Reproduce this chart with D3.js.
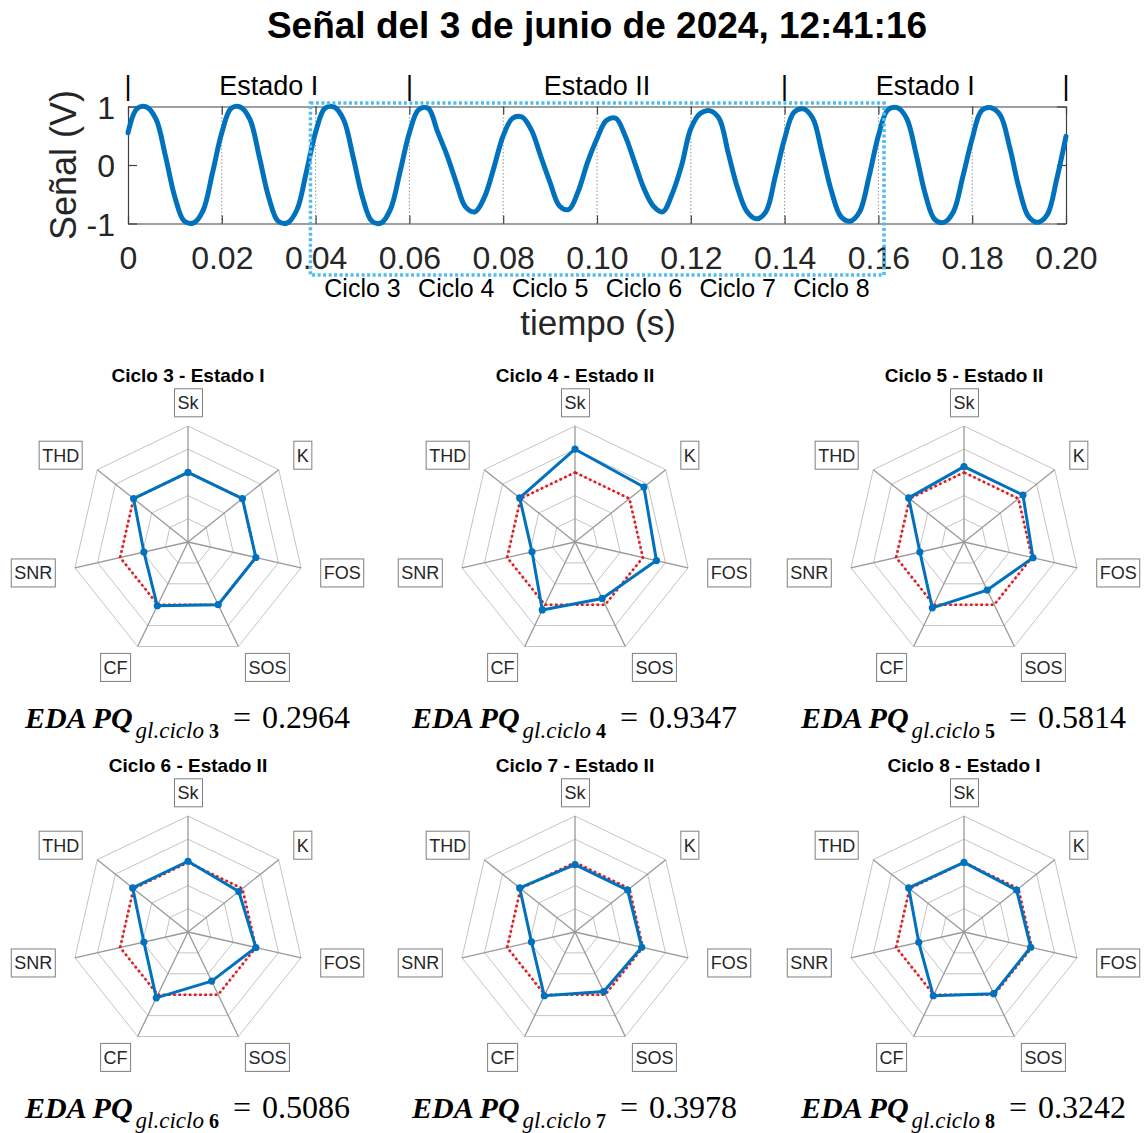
<!DOCTYPE html>
<html><head><meta charset="utf-8">
<script src="https://cdn.jsdelivr.net/npm/d3@7"></script>
<style>body{margin:0;background:#fff} svg{display:block}</style>
</head><body>
<svg id="chart" width="1147" height="1133"></svg>
<script>
// ---------------- DATA ----------------
const chartTitle = "Señal del 3 de junio de 2024, 12:41:16";
const signalStep = 0.002; // s between samples
const signalValues = [
  0.55, 0.97, 0.99, 0.78, 0.15, -0.55, -0.96, -0.99, -0.78, -0.14,
  0.55, 0.97, 0.99, 0.78, 0.14, -0.55, -0.96, -0.99, -0.77, -0.13,
  0.56, 0.97, 0.99, 0.77, 0.14, -0.55, -0.96, -0.99, -0.75, -0.12,
  0.55, 0.95, 0.97, 0.57, 0.17, -0.30, -0.72, -0.80, -0.55, -0.05,
  0.50, 0.80, 0.82, 0.60, 0.15, -0.30, -0.70, -0.76, -0.45, 0.05,
  0.45, 0.76, 0.80, 0.50, 0.05, -0.40, -0.70, -0.80, -0.50, -0.02,
  0.62, 0.88, 0.93, 0.80, 0.20, -0.40, -0.80, -0.92, -0.80, -0.20,
  0.45, 0.90, 0.96, 0.80, 0.20, -0.45, -0.88, -0.96, -0.80, -0.20,
  0.50, 0.94, 0.98, 0.80, 0.20, -0.50, -0.93, -0.98, -0.80, -0.20,
  0.45, 0.93, 0.98, 0.85, 0.30, -0.40, -0.88, -0.98, -0.85, -0.25,
  0.49
];
const timeTicks = [0, 0.02, 0.04, 0.06, 0.08, 0.10, 0.12, 0.14, 0.16, 0.18, 0.20];
const voltTicks = [-1, 0, 1];
const stateNames = ["Estado I", "Estado II", "Estado I"];
const stateBounds = [0, 0.06, 0.14, 0.20];
const cycleNames = ["Ciclo 3", "Ciclo 4", "Ciclo 5", "Ciclo 6", "Ciclo 7", "Ciclo 8"];
const cycleMidTimes = [0.05, 0.07, 0.09, 0.11, 0.13, 0.15];
const zoomBoxTimes = [0.0389, 0.1612];
const zoomBoxVolts = [1.06, -1.88];

const radarAxes = ["Sk", "K", "FOS", "SOS", "CF", "SNR", "THD"];
const radarLevels = [0.2, 0.4, 0.6, 0.8, 1.0];
const referenceValues = [0.6, 0.6, 0.6, 0.6, 0.6, 0.6, 0.6];
const ciclo3Values = [0.60, 0.60, 0.60, 0.60, 0.61, 0.39, 0.60];
const ciclo4Values = [0.80, 0.76, 0.72, 0.54, 0.65, 0.38, 0.61];
const ciclo5Values = [0.65, 0.65, 0.61, 0.46, 0.63, 0.39, 0.61];
const ciclo6Values = [0.61, 0.56, 0.60, 0.47, 0.63, 0.39, 0.61];
const ciclo7Values = [0.58, 0.58, 0.59, 0.57, 0.61, 0.385, 0.61];
const ciclo8Values = [0.60, 0.58, 0.59, 0.59, 0.61, 0.40, 0.61];
const radarCycleNumbers = [3, 4, 5, 6, 7, 8];
const radarStates = ["Estado I", "Estado II", "Estado II", "Estado II", "Estado II", "Estado I"];
const edaValues = [0.2964, 0.9347, 0.5814, 0.5086, 0.3978, 0.3242];

// ---------------- DRAW ----------------
const svg = d3.select("#chart");
svg.append("rect").attr("width", 1147).attr("height", 1133).attr("fill", "#fff");
const SANS = "'Liberation Sans', Arial, Helvetica, sans-serif";
const SERIF = "'Liberation Serif', 'DejaVu Serif', serif";
const TXT = "#262626";

svg.append("text").attr("x", 597).attr("y", 38).attr("text-anchor", "middle")
  .attr("font-family", SANS).attr("font-weight", "bold").attr("font-size", 37)
  .attr("fill", "#000").text(chartTitle);

// signal plot
const x = d3.scaleLinear().domain([0, 0.2]).range([128, 1066]);
const y = d3.scaleLinear().domain([-1, 1]).range([223.5, 106.5]);
const topG = svg.append("g");

topG.append("g").selectAll("line").data(timeTicks.slice(1, -1)).join("line")
  .attr("x1", d => x(d)).attr("x2", d => x(d)).attr("y1", y(-1)).attr("y2", y(1))
  .attr("stroke", "#8a8a8a").attr("stroke-width", 0.9).attr("stroke-dasharray", "1.5,2");

const xAxis = topG.append("g").attr("transform", `translate(0,${y(-1)})`)
  .call(d3.axisBottom(x).tickValues(timeTicks)
    .tickFormat(d => d === 0 ? "0" : d3.format(".2f")(d))
    .tickSizeInner(-8).tickSizeOuter(0).tickPadding(23));
const xAxisTop = topG.append("g").attr("transform", `translate(0,${y(1)})`)
  .call(d3.axisTop(x).tickValues(timeTicks).tickFormat("").tickSizeInner(-8).tickSizeOuter(0));
const yAxis = topG.append("g").attr("transform", `translate(${x(0)},0)`)
  .call(d3.axisLeft(y).tickValues(voltTicks).tickFormat(d => String(d))
    .tickSizeInner(-9).tickSizeOuter(0).tickPadding(13));
const yAxisR = topG.append("g").attr("transform", `translate(${x(0.2)},0)`)
  .call(d3.axisRight(y).tickValues(voltTicks).tickFormat("").tickSizeInner(-9).tickSizeOuter(0));
[xAxis, xAxisTop, yAxis, yAxisR].forEach(a => {
  a.selectAll("path,line").attr("stroke", "#404040").attr("stroke-width", 1.2);
  a.selectAll("text").attr("font-family", SANS).attr("font-size", 32).attr("fill", TXT);
});
yAxis.selectAll("text").attr("dy", "0.36em");

const sig = signalValues.map((v, i) => ({ t: i * signalStep, v }));
topG.append("path").datum(sig)
  .attr("d", d3.line().x(d => x(d.t)).y(d => y(d.v)).curve(d3.curveCatmullRom.alpha(0.5)))
  .attr("fill", "none").attr("stroke", "#0072BD").attr("stroke-width", 5)
  .attr("stroke-linejoin", "round").attr("stroke-linecap", "round");

topG.append("g").selectAll("text").data(stateBounds).join("text")
  .attr("x", d => x(d)).attr("y", 95).attr("text-anchor", "middle")
  .attr("font-family", SANS).attr("font-size", 27).attr("fill", "#000").text("|");
topG.append("g").selectAll("text").data(stateNames).join("text")
  .attr("x", (d, i) => x((stateBounds[i] + stateBounds[i + 1]) / 2)).attr("y", 95)
  .attr("text-anchor", "middle").attr("font-family", SANS).attr("font-size", 27)
  .attr("fill", "#000").text(d => d);

topG.append("g").selectAll("text").data(cycleNames).join("text")
  .attr("x", (d, i) => x(cycleMidTimes[i])).attr("y", 297).attr("text-anchor", "middle")
  .attr("font-family", SANS).attr("font-size", 25).attr("fill", "#000").text(d => d);

topG.append("rect")
  .attr("x", x(zoomBoxTimes[0])).attr("y", y(zoomBoxVolts[0]))
  .attr("width", x(zoomBoxTimes[1]) - x(zoomBoxTimes[0]))
  .attr("height", y(zoomBoxVolts[1]) - y(zoomBoxVolts[0]))
  .attr("fill", "none").attr("stroke", "#4DBEEE").attr("stroke-width", 3.5)
  .attr("stroke-dasharray", "3,2.5");

topG.append("text").attr("x", 598).attr("y", 335).attr("text-anchor", "middle")
  .attr("font-family", SANS).attr("font-size", 35).attr("fill", TXT).text("tiempo (s)");
topG.append("text").attr("transform", "translate(76,165) rotate(-90)").attr("text-anchor", "middle")
  .attr("font-family", SANS).attr("font-size", 36).attr("fill", TXT).text("Señal (V)");

// ---------------- RADARS ----------------
const R = 116;
const rScale = d3.scaleLinear().domain([0, 1]).range([0, R]);
const step = 2 * Math.PI / radarAxes.length;
const radarSeries = [ciclo3Values, ciclo4Values, ciclo5Values, ciclo6Values, ciclo7Values, ciclo8Values];
const colX = [188, 575, 964];
const rowY = [542, 932];

const radial = d3.lineRadial().angle((d, i) => i * step).radius(d => rScale(d)).curve(d3.curveLinearClosed);

radarSeries.forEach((vals, k) => {
  const cx = colX[k % 3], cy = rowY[Math.floor(k / 3)];
  const g = svg.append("g");
  const gc = g.append("g").attr("transform", `translate(${cx},${cy})`);
  gc.selectAll("path.ring").data(radarLevels).join("path").attr("class", "ring")
    .attr("d", l => radial(radarAxes.map(() => l)))
    .attr("fill", "none").attr("stroke", "#c4c4c4").attr("stroke-width", 1);
  gc.selectAll("line.spoke").data(radarAxes).join("line").attr("class", "spoke")
    .attr("x1", 0).attr("y1", 0)
    .attr("x2", (d, i) => rScale(1) * Math.sin(i * step))
    .attr("y2", (d, i) => -rScale(1) * Math.cos(i * step))
    .attr("stroke", "#999").attr("stroke-width", 1.3);
  gc.append("path").attr("d", radial(referenceValues))
    .attr("fill", "none").attr("stroke", "#e3161d").attr("stroke-width", 2.6)
    .attr("stroke-dasharray", "2.6,2.6");
  gc.append("path").attr("d", radial(vals))
    .attr("fill", "none").attr("stroke", "#0072BD").attr("stroke-width", 3)
    .attr("stroke-linejoin", "round");
  gc.selectAll("circle").data(vals).join("circle")
    .attr("cx", (d, i) => rScale(d) * Math.sin(i * step))
    .attr("cy", (d, i) => -rScale(d) * Math.cos(i * step))
    .attr("r", 3.6).attr("fill", "#0072BD");
  radarAxes.forEach((name, i) => {
    const a = i * step;
    const lx = rScale(1.2) * Math.sin(a), ly = -rScale(1.2) * Math.cos(a);
    const s = Math.sin(a);
    const anchor = Math.abs(s) < 0.05 ? "middle" : (s > 0 ? "start" : "end");
    const lg = gc.append("g");
    const t = lg.append("text").attr("x", lx).attr("y", ly).attr("dy", "0.36em")
      .attr("text-anchor", anchor).attr("font-family", SANS).attr("font-size", 18)
      .attr("fill", TXT).text(name);
    const bb = t.node().getBBox();
    lg.insert("rect", "text").attr("x", bb.x - 3).attr("y", ly - 14)
      .attr("width", bb.width + 6).attr("height", 28)
      .attr("fill", "#fff").attr("stroke", "#7f7f7f").attr("stroke-width", 1);
  });
  g.append("text").attr("x", cx).attr("y", cy - 160).attr("text-anchor", "middle")
    .attr("font-family", SANS).attr("font-weight", "bold").attr("font-size", 19)
    .attr("fill", "#000").text(`Ciclo ${radarCycleNumbers[k]} - ${radarStates[k]}`);
  const f = g.append("text").attr("y", cy + 185.5).attr("font-family", SERIF).attr("fill", "#000");
  f.append("tspan").attr("font-weight", "bold").attr("font-style", "italic").attr("font-size", 30).text("EDA PQ");
  f.append("tspan").attr("font-style", "italic").attr("font-size", 23).attr("dy", 10).attr("dx", 3).text("gl.ciclo");
  f.append("tspan").attr("font-weight", "bold").attr("font-size", 20).attr("dx", 5).text(radarCycleNumbers[k]);
  f.append("tspan").attr("font-size", 32).attr("dy", -10).attr("dx", 14).text("=");
  f.append("tspan").attr("font-size", 32).attr("dx", 11).text(d3.format(".4f")(edaValues[k]));
  const w = f.node().getBBox().width;
  f.attr("x", cx - w / 2);
});
</script>
</body></html>
